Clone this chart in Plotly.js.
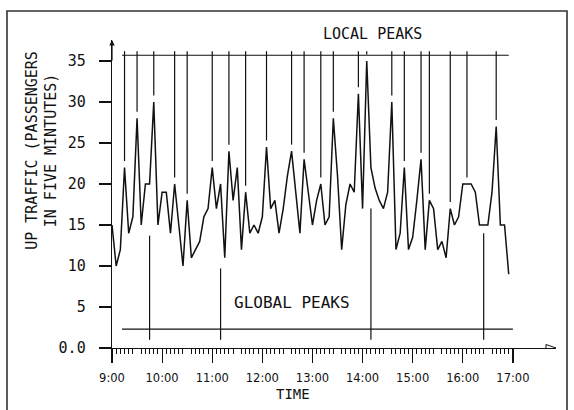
<!DOCTYPE html>
<html><head><meta charset="utf-8">
<script src="https://cdn.plot.ly/plotly-3.0.1.min.js"></script>
<style>html,body{margin:0;padding:0;background:#fff}#chart{width:574px;height:410px}</style>
</head><body><div id="chart"></div>
<script>
// ---- data ----
const times = [
 "9:00","9:05","9:10","9:15","9:20","9:25","9:30","9:35","9:40","9:45","9:50","9:55",
 "10:00","10:05","10:10","10:15","10:20","10:25","10:30","10:35","10:40","10:45","10:50","10:55",
 "11:00","11:05","11:10","11:15","11:20","11:25","11:30","11:35","11:40","11:45","11:50","11:55",
 "12:00","12:05","12:10","12:15","12:20","12:25","12:30","12:35","12:40","12:45","12:50","12:55",
 "13:00","13:05","13:10","13:15","13:20","13:25","13:30","13:35","13:40","13:45","13:50","13:55",
 "14:00","14:05","14:10","14:15","14:20","14:25","14:30","14:35","14:40","14:45","14:50","14:55",
 "15:00","15:05","15:10","15:15","15:20","15:25","15:30","15:35","15:40","15:45","15:50","15:55",
 "16:00","16:05","16:10","16:15","16:20","16:25","16:30","16:35","16:40","16:45","16:50","16:55"
];
const traffic = [
 15,10,12,22,14,16,28,15,20,20,30,15,
 19,19,14,20,15,10,18,11,12,13,16,17,
 22,17,20,11,24,18,22,12,19,14,15,14,
 16,24.5,17,18,14,17,21,24,19,14,23,19,
 15,18,20,15,16,28,21,12,17.5,20,19,31,
 17,35,22,19.5,18,17,19,30,12,14,22,12,
 13.5,18,23,12,18,17,12,13,11,17,15,16,
 20,20,20,19,15,15,15,19,27,15,15,9
];
const localPeakTimes = ["9:15","9:30","9:50","10:15","10:30","11:00","11:20","11:40","12:05","12:35","12:50",
 "13:10","13:25","13:55","14:05","14:35","14:50","15:10","15:20","15:45","16:05","16:40"];
const globalPeakTimes = ["9:45","11:10","14:10","16:25"];
const globalPeakTops = [13.7, 9.7, 17, 14];
const yTickVals = [0,5,10,15,20,25,30,35];
const yTickText = ["0.0","5","10","15","20","25","30","35"];
const yLongTicks = [0,10,20,30];
const xTickText = ["9:00","10:00","11:00","12:00","13:00","14:00","15:00","16:00","17:00"];
const halfHourTicks = ["9:30","10:30","11:30","12:30","13:30","14:30","15:30","16:30"];

// ---- layout constants ----
const LOCAL_LEVEL = 35.7, LOCAL_TOP = 36.2, LOCAL_GAP = 0.8, LOCAL_SPAN = ["9:12","16:55"];
const GLOBAL_LEVEL = 2.3, GLOBAL_BOTTOM = 1.0, GLOBAL_SPAN = ["9:12","17:00"];
const X_MIN = 9, X_MAX = 17.86, Y_MAX = 37.56;
const FONT = "DejaVu Sans Mono";
const INK = "#111";

const toH = s => { const p = s.split(':'); return Number(p[0]) + Number(p[1]) / 60; };
const xs = times.map(toH);
const xTickVals = xTickText.map(toH);

// local peak verticals
const lx = [], ly = [];
localPeakTimes.forEach(t => {
  const i = times.indexOf(t);
  lx.push(toH(t), toH(t), null);
  ly.push(traffic[i] + LOCAL_GAP, LOCAL_TOP, null);
});
// global peak verticals
const gx = [], gy = [];
globalPeakTimes.forEach((t, k) => {
  gx.push(toH(t), toH(t), null);
  gy.push(GLOBAL_BOTTOM, globalPeakTops[k], null);
});

// 5-minute minor ticks between 9:00 and 17:00
const minorVals = [];
for (let m = 9 * 60; m <= 17 * 60; m += 5) {
  if (m % 30 !== 0) minorVals.push(m / 60);
}

const traces = [
  {x: xs, y: traffic, mode: 'lines', line: {color: INK, width: 1.5}, name: 'UP TRAFFIC', hoverinfo: 'x+y'},
  {x: LOCAL_SPAN.map(toH), y: [LOCAL_LEVEL, LOCAL_LEVEL], mode: 'lines', line: {color: INK, width: 1.2}, hoverinfo: 'skip'},
  {x: lx, y: ly, mode: 'lines', line: {color: INK, width: 1.2}, hoverinfo: 'skip', connectgaps: false},
  {x: GLOBAL_SPAN.map(toH), y: [GLOBAL_LEVEL, GLOBAL_LEVEL], mode: 'lines', line: {color: INK, width: 1.2}, hoverinfo: 'skip'},
  {x: gx, y: gy, mode: 'lines', line: {color: INK, width: 1.2}, hoverinfo: 'skip', connectgaps: false}
];

const shapes = [];
halfHourTicks.forEach(t => shapes.push({type: 'line', xref: 'x', yref: 'y', ysizemode: 'pixel', yanchor: 0,
  x0: toH(t), x1: toH(t), y0: 0, y1: -9, line: {color: INK, width: 1}}));
yLongTicks.forEach(v => shapes.push({type: 'line', xref: 'x', yref: 'y', xsizemode: 'pixel', xanchor: X_MIN,
  x0: 0, x1: -25, y0: v, y1: v, line: {color: INK, width: 1.2}}));
// x axis arrow head (open)
shapes.push({type: 'path', xref: 'x', yref: 'y', xsizemode: 'pixel', ysizemode: 'pixel', xanchor: X_MAX, yanchor: 0,
  path: 'M-10,-3.5L0,0L-10,3.5Z', line: {color: INK, width: 1}, fillcolor: '#fff'});
// outer frame
shapes.push({type: 'rect', xref: 'paper', yref: 'paper', x0: -0.2365, x1: 1.0248, y0: -0.21, y1: 1.0942,
  line: {color: '#333', width: 1.6}, fillcolor: 'rgba(0,0,0,0)', layer: 'below'});

const annotations = [
  {x: X_MIN, y: Y_MAX, xref: 'x', yref: 'y', ax: 0, ay: 22, text: '', showarrow: true,
   arrowhead: 2, arrowsize: 0.9, arrowwidth: 1.2, arrowcolor: INK},
  {x: 14.19, y: 1.0195, xref: 'x', yref: 'paper', xanchor: 'center', yanchor: 'middle', text: 'LOCAL PEAKS',
   showarrow: false, font: {family: FONT, size: 15, color: INK}},
  {x: 12.59, y: 5.6, xref: 'x', yref: 'y', xanchor: 'center', yanchor: 'middle', text: 'GLOBAL PEAKS',
   showarrow: false, font: {family: FONT, size: 16, color: INK}},
  {x: 12.61, y: -0.148, xref: 'x', yref: 'paper', xanchor: 'center', yanchor: 'middle', text: 'TIME',
   showarrow: false, font: {family: FONT, size: 14, color: INK}},
  {x: -0.158, y: 0.643, xref: 'paper', yref: 'paper', xanchor: 'center', yanchor: 'middle',
   text: 'UP TRAFFIC (PASSENGERS<br>IN FIVE MINTUTES)', textangle: -90, showarrow: false,
   font: {family: FONT, size: 15, color: INK}}
];

const layout = {
  width: 574, height: 410,
  margin: {l: 112, r: 18, t: 40, b: 62, pad: 0},
  paper_bgcolor: '#fff', plot_bgcolor: '#fff',
  showlegend: false,
  xaxis: {range: [X_MIN, X_MAX], showline: true, linecolor: INK, linewidth: 1.3, zeroline: false, showgrid: false,
    ticks: 'outside', tickmode: 'array', tickvals: xTickVals, ticktext: xTickText, ticklen: 14, tickwidth: 1.2,
    tickcolor: INK, ticklabelstandoff: 5, tickfont: {family: 'DejaVu Sans', size: 11.5, color: INK},
    minor: {tickmode: 'array', tickvals: minorVals, ticks: 'outside', ticklen: 5, tickwidth: 1, tickcolor: INK, showgrid: false}},
  yaxis: {range: [0, Y_MAX], showline: true, linecolor: INK, linewidth: 1.3, zeroline: false, showgrid: false,
    ticks: 'outside', tickmode: 'array', tickvals: yTickVals, ticktext: yTickText, ticklen: 12, tickwidth: 1.2,
    tickcolor: INK, ticklabelstandoff: 10, tickfont: {family: FONT, size: 15, color: INK}},
  shapes: shapes,
  annotations: annotations
};

Plotly.newPlot('chart', traces, layout, {staticPlot: true, displayModeBar: false});
</script>
</body></html>
